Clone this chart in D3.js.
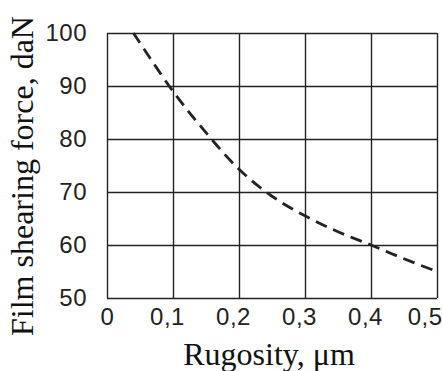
<!DOCTYPE html>
<html>
<head>
<meta charset="utf-8">
<script src="https://cdn.jsdelivr.net/npm/d3@7"></script>
<style>
  body { margin: 0; background: #fff; }
  svg { display: block; }
</style>
</head>
<body>
<div id="chart"></div>
<script>
// curve
var rugosity = [0.04, 0.1, 0.15, 0.2, 0.25, 0.3, 0.35, 0.4, 0.45, 0.5]
var force = [100, 89, 81.2, 74.3, 69.2, 65.5, 62.5, 60, 57.4, 55]

var xTicks = [0, 0.1, 0.2, 0.3, 0.4, 0.5]
var xTickLabels = ['0', '0,1', '0,2', '0,3', '0,4', '0,5']
var yTicks = [50, 60, 70, 80, 90, 100]

var width = 443
var height = 371
var margin = { top: 33, right: 6, bottom: 73, left: 107 }

var svg = d3.select('#chart').append('svg')
  .attr('width', width)
  .attr('height', height)

var x = d3.scaleLinear().domain([0, 0.5]).range([margin.left, width - margin.right])
var y = d3.scaleLinear().domain([50, 100]).range([height - margin.bottom, margin.top])

var ink = '#222'
var tickFont = 'Liberation Sans Narrow, Liberation Sans, Arial, sans-serif'

// grid (frame is just the outer grid lines)
svg.append('g')
  .attr('transform', 'translate(0,' + margin.top + ')')
  .call(d3.axisBottom(x).tickValues(xTicks)
    .tickSize(height - margin.top - margin.bottom).tickFormat(''))
  .call(function (g) { g.select('.domain').remove() })
  .selectAll('line').attr('stroke', ink).attr('stroke-width', 1.4)

svg.append('g')
  .attr('transform', 'translate(' + margin.left + ',0)')
  .call(d3.axisRight(y).tickValues(yTicks)
    .tickSize(width - margin.left - margin.right).tickFormat(''))
  .call(function (g) { g.select('.domain').remove() })
  .selectAll('line').attr('stroke', ink).attr('stroke-width', 1.4)

// tick labels
var xAxis = svg.append('g')
  .attr('transform', 'translate(0,' + (height - margin.bottom) + ')')
  .call(d3.axisBottom(x).tickValues(xTicks).tickSize(0).tickPadding(10)
    .tickFormat(function (d, i) { return xTickLabels[i] }))
xAxis.select('.domain').remove()
// labels in the original sit a little left of their grid line, last one kept inside
xAxis.selectAll('.tick text')
  .attr('dx', function (d, i) { return i === 0 ? 0 : -6 })
  .filter(function (d, i) { return i === xTicks.length - 1 })
  .attr('text-anchor', 'end')
  .attr('dx', 5)

var yAxis = svg.append('g')
  .attr('transform', 'translate(' + margin.left + ',0)')
  .call(d3.axisLeft(y).tickValues(yTicks).tickSize(0).tickPadding(20))
yAxis.select('.domain').remove()

svg.selectAll('.tick text')
  .attr('font-family', tickFont)
  .attr('font-size', 24)
  .attr('letter-spacing', 0.5)
  .attr('fill', ink)

// dashed curve
var line = d3.line()
  .x(function (d, i) { return x(rugosity[i]) })
  .y(function (d) { return y(d) })
  .curve(d3.curveCatmullRom)

svg.append('path')
  .datum(force)
  .attr('d', line)
  .attr('fill', 'none')
  .attr('stroke', ink)
  .attr('stroke-width', 2.8)
  .attr('stroke-dasharray', '12,7')

// axis titles
svg.append('text')
  .attr('x', 269)
  .attr('y', 365)
  .attr('text-anchor', 'middle')
  .attr('font-family', 'Liberation Serif, Times New Roman, serif')
  .attr('font-size', 32)
  .attr('fill', '#111')
  .text('Rugosity, μm')

svg.append('text')
  .attr('transform', 'translate(33,176) rotate(-90)')
  .attr('text-anchor', 'middle')
  .attr('font-family', 'Liberation Serif, Times New Roman, serif')
  .attr('font-size', 32)
  .attr('fill', '#111')
  .text('Film shearing force, daN')
</script>
</body>
</html>
